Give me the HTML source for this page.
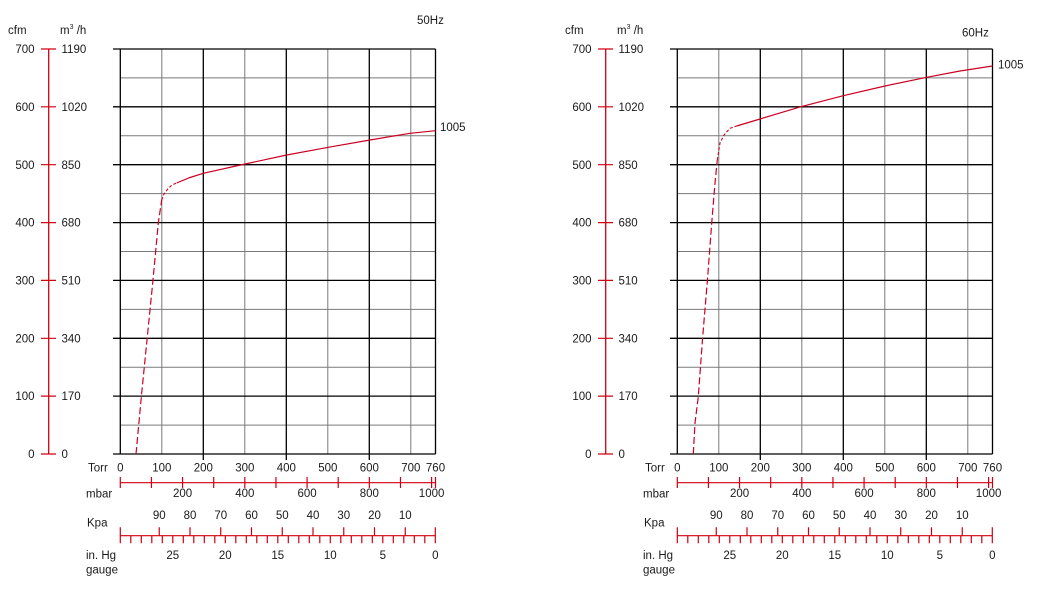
<!DOCTYPE html>
<html><head><meta charset="utf-8"><style>
html,body{margin:0;padding:0;background:#fff;}
svg{display:block;font-family:"Liberation Sans",Arial,sans-serif;}
text{font-size:11.5px;fill:#1a1a1a;}
</style></head><body>
<svg width="1043" height="596" viewBox="0 0 1043 596" xmlns="http://www.w3.org/2000/svg">
<defs></defs>

<!-- LEFT CHART -->
<g id="L">
  <!-- left axes -->
  <text x="8" y="34">cfm</text>
  <text x="60" y="34">m<tspan font-size="7" dy="-5">3</tspan><tspan dy="5"> /h</tspan></text>
  <path d="M48.7 49V454" stroke="#d00010" stroke-width="1.3" fill="none"/>
  <path d="M41 49H56M41 106.8H56M41 164.7H56M41 222.6H56M41 280.4H56M41 338.3H56M41 396.1H56M41 454H56" stroke="#d00010" stroke-width="1.2" fill="none"/>
  <g text-anchor="end">
    <text x="34.5" y="53">700</text><text x="34.5" y="111">600</text><text x="34.5" y="169">500</text><text x="34.5" y="226.6">400</text><text x="34.5" y="284.4">300</text><text x="34.5" y="342.3">200</text><text x="34.5" y="400.1">100</text><text x="34.5" y="458">0</text>
  </g>
  <text x="61.5" y="53">1190</text><text x="61.5" y="111">1020</text><text x="61.5" y="169">850</text><text x="61.5" y="226.6">680</text><text x="61.5" y="284.4">510</text><text x="61.5" y="342.3">340</text><text x="61.5" y="400.1">170</text><text x="61.5" y="458">0</text>

  <!-- grid gray -->
  <path d="M120.3 425.1H435.5M120.3 367.2H435.5M120.3 309.4H435.5M120.3 251.5H435.5M120.3 193.6H435.5M120.3 135.8H435.5M120.3 77.9H435.5M161.8 49V454M244.8 49V454M327.8 49V454M410.8 49V454" stroke="#7a7a7a" stroke-width="1" fill="none"/>
  <!-- grid black -->
  <path d="M113 454H435.5M113 396.1H435.5M113 338.3H435.5M113 280.4H435.5M113 222.6H435.5M113 164.7H435.5M113 106.8H435.5M113 49H435.5M120.3 49V454M203.3 49V460M286.3 49V460M369.3 49V460M435.5 49V454" stroke="#000" stroke-width="1.3" fill="none"/>

  <!-- Torr labels -->
  <text x="88" y="471.5">Torr</text>
  <g text-anchor="middle">
    <text x="120.3" y="471.5">0</text><text x="161.8" y="471.5">100</text><text x="203.3" y="471.5">200</text><text x="244.8" y="471.5">300</text><text x="286.3" y="471.5">400</text><text x="327.8" y="471.5">500</text><text x="369.3" y="471.5">600</text><text x="410.8" y="471.5">700</text><text x="435.5" y="471.5">760</text>
  </g>
  <!-- mbar -->
  <path d="M120.3 482.7H435.5M120.3 477v11m31.13 -11v11m31.13 -11v11m31.13 -11v11m31.13 -11v11m31.13 -11v11m31.13 -11v11m31.13 -11v11m31.13 -11v11m31.13 -11v11m31.13 -11v11M435.5 477v11" stroke="#d00010" stroke-width="1.2" fill="none"/>
  <text x="86" y="497.5">mbar</text>
  <g text-anchor="middle">
    <text x="182.6" y="497">200</text><text x="244.8" y="497">400</text><text x="307.1" y="497">600</text><text x="369.3" y="497">800</text><text x="431.6" y="497">1000</text>
  </g>
  <!-- Kpa / in Hg -->
  <text x="87" y="526.5">Kpa</text>
  <g text-anchor="middle">
    <text x="159.25" y="519">90</text><text x="190" y="519">80</text><text x="220.75" y="519">70</text><text x="251.5" y="519">60</text><text x="282.25" y="519">50</text><text x="313" y="519">40</text><text x="343.75" y="519">30</text><text x="374.5" y="519">20</text><text x="405.25" y="519">10</text>
  </g>
  <path d="M120.3 535.7H435.3M120.3 527.3V543.3M435.3 527.3V543.3M159.25 527.3v8.4m30.75 -8.4v8.4m30.75 -8.4v8.4m30.75 -8.4v8.4m30.75 -8.4v8.4m30.75 -8.4v8.4m30.75 -8.4v8.4m30.75 -8.4v8.4m30.75 -8.4v8.4M130.8 535.7v7.6m10.5 -7.6v7.6m10.5 -7.6v7.6m10.5 -7.6v7.6m10.5 -7.6v7.6m10.5 -7.6v7.6m10.5 -7.6v7.6m10.5 -7.6v7.6m10.5 -7.6v7.6m10.5 -7.6v7.6m10.5 -7.6v7.6m10.5 -7.6v7.6m10.5 -7.6v7.6m10.5 -7.6v7.6m10.5 -7.6v7.6m10.5 -7.6v7.6m10.5 -7.6v7.6m10.5 -7.6v7.6m10.5 -7.6v7.6m10.5 -7.6v7.6m10.5 -7.6v7.6m10.5 -7.6v7.6m10.5 -7.6v7.6m10.5 -7.6v7.6m10.5 -7.6v7.6m10.5 -7.6v7.6m10.5 -7.6v7.6m10.5 -7.6v7.6m10.5 -7.6v7.6" stroke="#d00010" stroke-width="1.2" fill="none"/>
  <text x="86" y="559">in. Hg</text>
  <text x="86" y="573.5">gauge</text>
  <g text-anchor="middle">
    <text x="172.8" y="559">25</text><text x="225.3" y="559">20</text><text x="277.8" y="559">15</text><text x="330.3" y="559">10</text><text x="382.8" y="559">5</text><text x="435.3" y="559">0</text>
  </g>
</g>

<!-- left curve -->
<polyline points="136,454 141.7,393 147,340 152.7,283 158.3,223 161.7,200" fill="none" stroke="#cc0022" stroke-width="1.2" stroke-dasharray="7,3"/>
<polyline points="161.7,200 164,194 168.3,188.3 172,185 176.7,183" fill="none" stroke="#cc0022" stroke-width="1.1" stroke-dasharray="3,2"/>
<polyline points="176.7,183 190,177.5 203.3,173.3 245,164 286.7,155 328.3,147.3 370,140 410,133.3 435.5,130.7" fill="none" stroke="#cc0022" stroke-width="1.2"/>
<text x="440" y="131">1005</text>
<text x="417" y="24">50Hz</text>

<!-- RIGHT CHART -->
<g transform="translate(557,0)">
  <text x="8" y="34">cfm</text>
  <text x="60" y="34">m<tspan font-size="7" dy="-5">3</tspan><tspan dy="5"> /h</tspan></text>
  <path d="M48.7 49V454" stroke="#d00010" stroke-width="1.3" fill="none"/>
  <path d="M41 49H56M41 106.8H56M41 164.7H56M41 222.6H56M41 280.4H56M41 338.3H56M41 396.1H56M41 454H56" stroke="#d00010" stroke-width="1.2" fill="none"/>
  <g text-anchor="end">
    <text x="34.5" y="53">700</text><text x="34.5" y="111">600</text><text x="34.5" y="169">500</text><text x="34.5" y="226.6">400</text><text x="34.5" y="284.4">300</text><text x="34.5" y="342.3">200</text><text x="34.5" y="400.1">100</text><text x="34.5" y="458">0</text>
  </g>
  <text x="61.5" y="53">1190</text><text x="61.5" y="111">1020</text><text x="61.5" y="169">850</text><text x="61.5" y="226.6">680</text><text x="61.5" y="284.4">510</text><text x="61.5" y="342.3">340</text><text x="61.5" y="400.1">170</text><text x="61.5" y="458">0</text>

  <path d="M120.3 425.1H435.5M120.3 367.2H435.5M120.3 309.4H435.5M120.3 251.5H435.5M120.3 193.6H435.5M120.3 135.8H435.5M120.3 77.9H435.5M161.8 49V454M244.8 49V454M327.8 49V454M410.8 49V454" stroke="#7a7a7a" stroke-width="1" fill="none"/>
  <path d="M113 454H435.5M113 396.1H435.5M113 338.3H435.5M113 280.4H435.5M113 222.6H435.5M113 164.7H435.5M113 106.8H435.5M113 49H435.5M120.3 49V454M203.3 49V460M286.3 49V460M369.3 49V460M435.5 49V454" stroke="#000" stroke-width="1.3" fill="none"/>

  <text x="88" y="471.5">Torr</text>
  <g text-anchor="middle">
    <text x="120.3" y="471.5">0</text><text x="161.8" y="471.5">100</text><text x="203.3" y="471.5">200</text><text x="244.8" y="471.5">300</text><text x="286.3" y="471.5">400</text><text x="327.8" y="471.5">500</text><text x="369.3" y="471.5">600</text><text x="410.8" y="471.5">700</text><text x="435.5" y="471.5">760</text>
  </g>
  <path d="M120.3 482.7H435.5M120.3 477v11m31.13 -11v11m31.13 -11v11m31.13 -11v11m31.13 -11v11m31.13 -11v11m31.13 -11v11m31.13 -11v11m31.13 -11v11m31.13 -11v11m31.13 -11v11M435.5 477v11" stroke="#d00010" stroke-width="1.2" fill="none"/>
  <text x="86" y="497.5">mbar</text>
  <g text-anchor="middle">
    <text x="182.6" y="497">200</text><text x="244.8" y="497">400</text><text x="307.1" y="497">600</text><text x="369.3" y="497">800</text><text x="431.6" y="497">1000</text>
  </g>
  <text x="87" y="526.5">Kpa</text>
  <g text-anchor="middle">
    <text x="159.25" y="519">90</text><text x="190" y="519">80</text><text x="220.75" y="519">70</text><text x="251.5" y="519">60</text><text x="282.25" y="519">50</text><text x="313" y="519">40</text><text x="343.75" y="519">30</text><text x="374.5" y="519">20</text><text x="405.25" y="519">10</text>
  </g>
  <path d="M120.3 535.7H435.3M120.3 527.3V543.3M435.3 527.3V543.3M159.25 527.3v8.4m30.75 -8.4v8.4m30.75 -8.4v8.4m30.75 -8.4v8.4m30.75 -8.4v8.4m30.75 -8.4v8.4m30.75 -8.4v8.4m30.75 -8.4v8.4m30.75 -8.4v8.4M130.8 535.7v7.6m10.5 -7.6v7.6m10.5 -7.6v7.6m10.5 -7.6v7.6m10.5 -7.6v7.6m10.5 -7.6v7.6m10.5 -7.6v7.6m10.5 -7.6v7.6m10.5 -7.6v7.6m10.5 -7.6v7.6m10.5 -7.6v7.6m10.5 -7.6v7.6m10.5 -7.6v7.6m10.5 -7.6v7.6m10.5 -7.6v7.6m10.5 -7.6v7.6m10.5 -7.6v7.6m10.5 -7.6v7.6m10.5 -7.6v7.6m10.5 -7.6v7.6m10.5 -7.6v7.6m10.5 -7.6v7.6m10.5 -7.6v7.6m10.5 -7.6v7.6m10.5 -7.6v7.6m10.5 -7.6v7.6m10.5 -7.6v7.6m10.5 -7.6v7.6m10.5 -7.6v7.6" stroke="#d00010" stroke-width="1.2" fill="none"/>
  <text x="86" y="559">in. Hg</text>
  <text x="86" y="573.5">gauge</text>
  <g text-anchor="middle">
    <text x="172.8" y="559">25</text><text x="225.3" y="559">20</text><text x="277.8" y="559">15</text><text x="330.3" y="559">10</text><text x="382.8" y="559">5</text><text x="435.3" y="559">0</text>
  </g>
</g>

<!-- right curve -->
<polyline points="693.3,454 695,423 698.3,396.7 702.7,336.7 707.7,276.7 711.7,223.3 715,183 717.3,160" fill="none" stroke="#cc0022" stroke-width="1.2" stroke-dasharray="7,3"/>
<polyline points="717.3,160 720,143 724,135 730,128.3 736.7,126" fill="none" stroke="#cc0022" stroke-width="1.1" stroke-dasharray="3,2"/>
<polyline points="736.7,126 760,119 801,106.7 843.3,95.7 885,86 926.7,77.3 960,71 992.5,66" fill="none" stroke="#cc0022" stroke-width="1.2"/>
<text x="998" y="68.5">1005</text>
<text x="962" y="36.5">60Hz</text>
</svg>
</body></html>
